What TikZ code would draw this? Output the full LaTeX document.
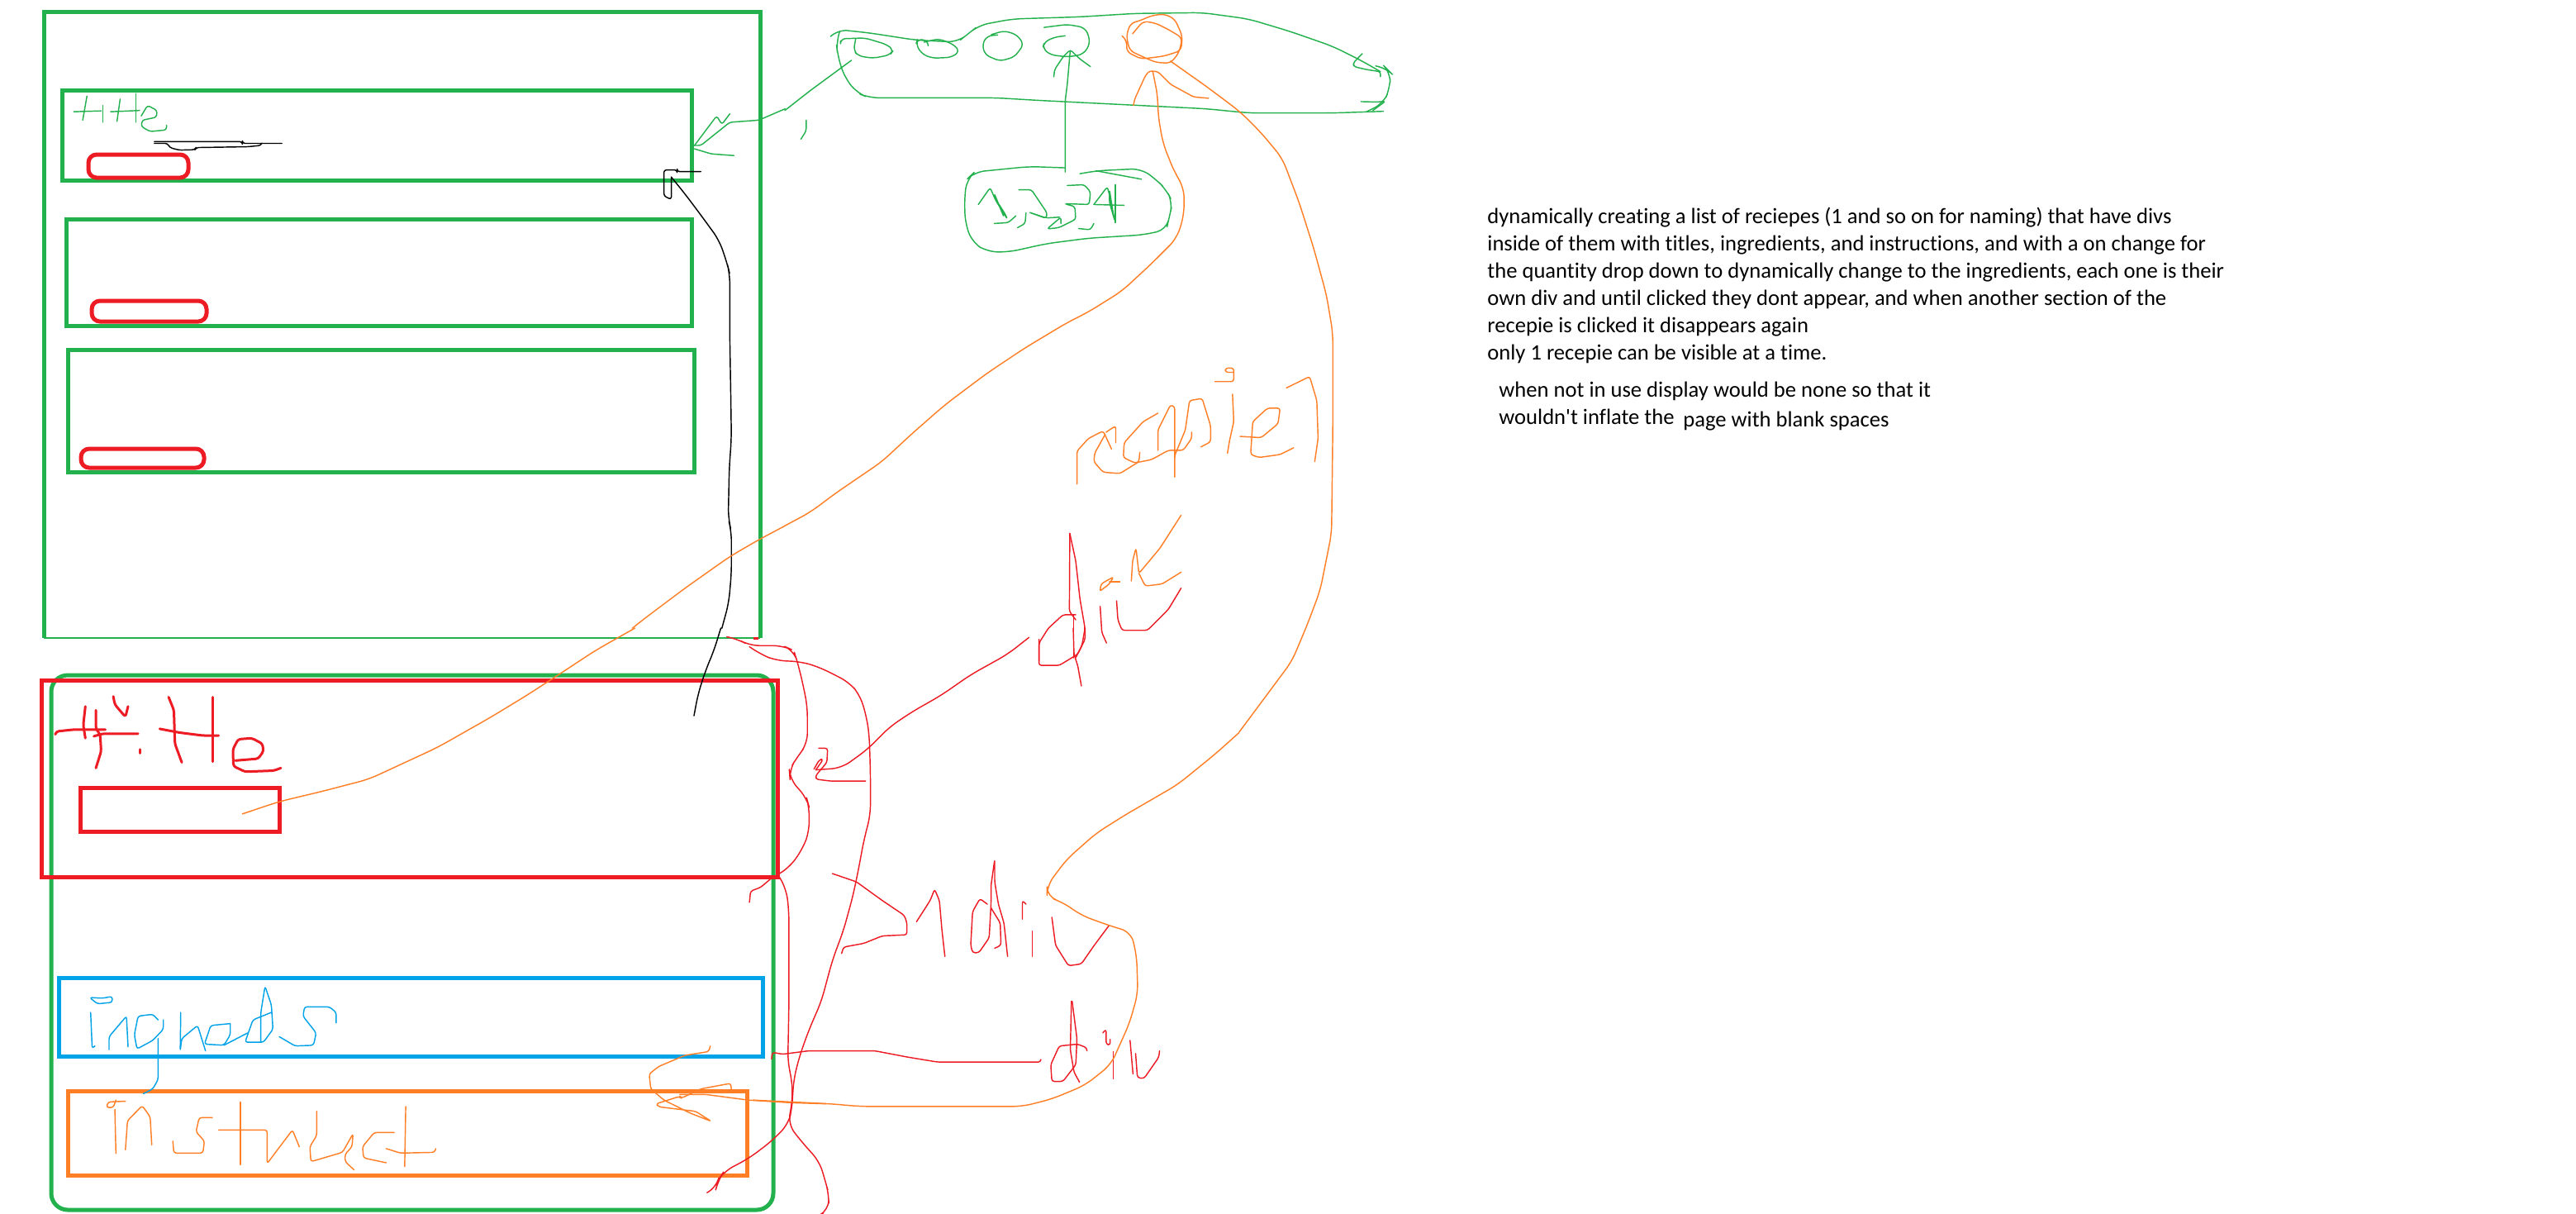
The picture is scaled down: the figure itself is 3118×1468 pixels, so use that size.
\documentclass[tikz,border=0pt]{standalone}
\usepackage{fontspec}
\newfontfamily\notefont{Carlito}[Ligatures=NoCommon]
\definecolor{pgreen}{HTML}{22B14C}
\definecolor{pred}{HTML}{ED1C24}
\definecolor{pblue}{HTML}{00A2E8}
\definecolor{porange}{HTML}{FF7F27}
\tikzset{
  zA/.style={xscale=.6378,yscale=.5102},
  zB/.style={shift={(950,0)},scale=.5102},
  zC/.style={shift={(0,760)},xscale=.6378,yscale=.4515},
  zD/.style={shift={(800,760)},xscale=.4464,yscale=.4515},
  box/.style={line width=2.5pt,line join=miter},
  thin stroke/.style={line width=.72pt,line join=round,line cap=round,rounded corners=1.5pt},
  longcurve/.style={rounded corners=6pt},
  med stroke/.style={line width=1.5pt,line join=round,line cap=round,rounded corners=1.5pt},
  note/.style={anchor=base west,inner sep=0pt,font=\notefont\fontsize{13.3pt}{15pt}\selectfont,text=black}
}
\begin{document}
\begin{tikzpicture}[x=.5pt,y=-.5pt]
\useasboundingbox (0,0) rectangle (3118,1468);
\fill[white] (0,0) rectangle (3118,1468);
% ---------- thick boxes
\draw[box,pgreen] (53,772) -- (53,14) -- (920,14) -- (920,772);
\draw[pgreen,line width=.7pt] (53,772) -- (920,772);
\draw[box,pgreen] (75,109) rectangle (837,218);
\draw[box,pgreen] (80,265) rectangle (837,394);
\draw[box,pgreen] (82,423) rectangle (840,571);
\draw[box,pred,rounded corners=5pt] (107,187) rectangle (228,215);
\draw[box,pred,rounded corners=5pt] (111,364) rectangle (250,389);
\draw[box,pred,rounded corners=5pt] (98,543) rectangle (247,566);
\draw[box,pgreen,rounded corners=10pt] (62,817) rectangle (936,1464);
\draw[box,pred] (50,823) rectangle (941,1061);
\draw[box,pred] (97,953) rectangle (338,1006);
\draw[box,pblue] (71,1183.5) rectangle (923,1278);
\draw[box,porange] (82,1320) rectangle (904,1422);
\draw[pred,line width=1.5pt] (912,772) -- (918,772);
% ---------- zoom-A strokes
\begin{scope}[zA]
\begin{scope}[thin stroke,pgreen]
\draw (165,228) -- (157,285);
\draw (140,265) -- (192,263);
\draw (195,250) -- (195,290);
\draw (228,235) -- (222,288);
\draw (210,265) -- (265,262);
\draw (258,222) -- (258,290);
\draw (268,275) -- (280,250) -- (298,262) -- (297,278) -- (270,285) -- (268,300) -- (285,312) -- (316,308) -- (316,297);
\draw (1318,345) -- (1360,275) -- (1370,295) -- (1385,270);
\draw (1318,345) -- (1330,345) -- (1385,290) -- (1440,285) -- (1490,258);
\draw (1318,353) -- (1350,365) -- (1393,369);
\draw (1530,285) -- (1530,310) -- (1520,330);
\end{scope}
\begin{scope}[thin stroke,black]
\draw (293,336) -- (460,336) -- (460,340) -- (535,340);
\draw (293,340) -- (318,340) -- (322,350) -- (340,356) -- (370,355) -- (372,350) -- (470,348) -- (495,345) -- (497,340);
\draw (1330,407) -- (1285,407) -- (1285,403) -- (1260,403) -- (1260,465) -- (1274,473) -- (1274,420);
\draw[longcurve] (1274,420) -- (1300,460) -- (1330,510) -- (1365,570) -- (1380,625) -- (1385,650) -- (1385,800) -- (1387,950) -- (1388,1040) -- (1384,1110) -- (1382,1230) -- (1388,1260) -- (1388,1360) -- (1383,1430) -- (1370,1490);
\end{scope}
\draw[thin stroke,longcurve,porange] (1490,1247) -- (1440,1280) -- (1385,1320) -- (1300,1395) -- (1220,1470) -- (1200,1490);
\end{scope}
% ---------- zoom-B strokes
\begin{scope}[zB]
\begin{scope}[thin stroke,pgreen]
\draw (0,262) -- (60,215) -- (158,143);
\draw[longcurve] (110,85) -- (125,70) -- (200,78) -- (310,95) -- (410,100) -- (435,80) -- (460,60) -- (540,45) -- (700,40) -- (830,32) -- (990,30) -- (1100,45) -- (1200,75) -- (1300,110) -- (1370,145) -- (1413,170);
\draw (1370,127) -- (1348,150) -- (1350,158) -- (1380,165) -- (1413,170) -- (1413,182);
\draw[longcurve] (1405,157) -- (1425,160) -- (1437,172) -- (1435,210) -- (1420,245) -- (1380,265);
\draw (1367,241) -- (1405,242) -- (1425,240) -- (1395,262);
\draw[longcurve] (1420,264) -- (1300,268) -- (1100,268) -- (1000,258) -- (800,248) -- (600,238) -- (500,232) -- (200,232) -- (170,220) -- (140,180) -- (125,130) -- (122,100) -- (130,75);
\draw[rounded corners=3pt] (132,97) -- (132,92) -- (190,90) -- (240,105) -- (258,118) -- (250,130) -- (210,138) -- (175,133) -- (163,120) -- (168,92);
\draw[rounded corners=3pt] (340,105) -- (340,97) -- (315,92) -- (311,105) -- (325,128) -- (350,138) -- (395,136) -- (415,122) -- (400,105) -- (365,92) -- (330,100);
\draw[rounded corners=3pt] (505,83) -- (480,85) -- (468,105) -- (475,130) -- (510,145) -- (545,135) -- (567,105) -- (550,82) -- (520,73) -- (490,82);
\draw[rounded corners=3pt] (615,65) -- (670,58) -- (710,65) -- (722,85) -- (722,110) -- (705,130) -- (670,135) -- (630,130) -- (612,115) -- (615,100) -- (640,88) -- (665,85);
\draw (665,408) -- (665,240) -- (670,200) -- (677,120);
\draw (638,182) -- (640,165) -- (660,135) -- (677,118) -- (700,140) -- (725,158);
\draw[longcurve] (665,398) -- (580,395) -- (450,408) -- (432,425) -- (426,470) -- (428,530) -- (445,575) -- (480,597) -- (530,598) -- (620,578) -- (720,565) -- (850,557) -- (905,545) -- (912,515) -- (920,480) -- (905,450) -- (880,425) -- (845,400) -- (740,405) -- (700,412);
\draw (738,405) -- (846,425);
\draw (459,485) -- (487,445) -- (500,475) -- (528,520) -- (524,510) -- (505,480) -- (520,515) -- (498,462);
\draw (497,530) -- (530,528) -- (548,512);
\draw (555,450) -- (585,450) -- (622,505) -- (620,518) -- (578,503) -- (620,517) -- (652,515);
\draw (572,505) -- (570,530) -- (552,540);
\draw (670,440) -- (710,438) -- (725,455) -- (722,485) -- (663,483) -- (688,490) -- (690,520) -- (650,540) -- (622,543) -- (655,515) -- (655,530);
\draw (697,542) -- (725,545) -- (733,530);
\draw (733,485) -- (765,443) -- (772,470) -- (783,525) -- (770,480) -- (770,450) -- (778,500);
\draw (784,438) -- (784,528);
\draw (733,485) -- (805,487);
\end{scope}
\begin{scope}[thin stroke,porange]
\draw[rounded corners=3pt] (800,85) -- (812,98) -- (810,122) -- (845,140) -- (900,133) -- (940,120) -- (943,85) -- (925,45) -- (900,33) -- (870,37) -- (840,50) -- (820,55) -- (810,85) -- (818,120) -- (850,135) -- (880,148) -- (915,150) -- (935,125) -- (943,90) -- (910,70) -- (880,55) -- (850,50) -- (825,80);
\draw[longcurve] (915,145) -- (1000,205) -- (1080,265) -- (1130,315) -- (1180,375) -- (1220,480) -- (1255,590) -- (1285,700) -- (1300,790) -- (1300,1010) -- (1297,1265) -- (1270,1400) -- (1240,1480) -- (1203,1568) -- (1078,1736);
\draw (827,250) -- (830,235) -- (855,180) -- (865,168) -- (885,170) -- (915,200) -- (970,230) -- (1005,233);
\draw[longcurve] (873,170) -- (885,230) -- (885,270) -- (897,340) -- (925,410) -- (947,445) -- (947,510) -- (930,565) -- (870,625) -- (800,690) -- (720,740) -- (670,765) -- (570,825) -- (480,885) -- (380,960) -- (300,1030) -- (230,1095) -- (120,1170) -- (60,1215) -- (0,1247);
\draw (693,1148) -- (693,1070) -- (720,1040) -- (755,1022) -- (775,1065);
\draw (760,1030) -- (735,1075) -- (733,1095) -- (755,1120) -- (795,1123) -- (840,1095) -- (842,1073);
\draw (762,1025) -- (785,1010) -- (785,1050);
\draw (885,980) -- (850,1000) -- (805,1050) -- (803,1085) -- (830,1098) -- (870,1090) -- (910,1068) -- (945,1068) -- (965,1040) -- (965,1025);
\draw (885,1068) -- (885,1020) -- (915,960) -- (925,965) -- (925,1135) -- (925,1080) -- (950,1020) -- (960,950) -- (990,945) -- (1010,1010) -- (1010,1048) -- (987,1060);
\draw (1020,905) -- (1065,905) -- (1065,873) -- (1045,873) -- (1045,883) -- (1065,883);
\draw (1062,935) -- (1065,1000) -- (1055,1045) -- (1050,1075);
\draw (1080,1035) -- (1130,1038) -- (1170,1005) -- (1175,968) -- (1145,968) -- (1110,1000) -- (1105,1078) -- (1125,1085) -- (1175,1078) -- (1207,1062);
\draw (1190,920) -- (1245,893) -- (1262,950) -- (1265,1040) -- (1257,1095);
\draw (748,1400) -- (750,1385) -- (780,1368) -- (770,1385) -- (750,1400);
\draw (770,1380) -- (795,1380);
\draw (822,1378) -- (825,1330) -- (833,1300) -- (840,1360) -- (890,1300) -- (940,1222);
\draw (840,1360) -- (855,1390) -- (895,1385) -- (940,1357);
\end{scope}
\begin{scope}[thin stroke,pred]
\draw (676,1265) -- (675,1450) -- (690,1470);
\draw (676,1265) -- (690,1330) -- (700,1420) -- (712,1490) -- (705,1530) -- (690,1560);
\draw (690,1458) -- (660,1458) -- (625,1490) -- (603,1525) -- (603,1568);
\draw (685,1458) -- (685,1560);
\draw (748,1438) -- (752,1500) -- (763,1525);
\draw (787,1425) -- (790,1470) -- (800,1495) -- (860,1495) -- (910,1445) -- (940,1395);
\end{scope}
\end{scope}
% ---------- zoom-C strokes
\begin{scope}[zC]
\draw[thin stroke,longcurve,black] (1368,0) -- (1355,60) -- (1340,110) -- (1325,175) -- (1317,235);
\draw[thin stroke,longcurve,porange] (1205,0) -- (1130,60) -- (1060,125) -- (1000,180) -- (930,240) -- (830,320) -- (700,405) -- (610,438) -- (530,465) -- (460,498);
\begin{scope}[med stroke,pred]
\draw (105,285) -- (107,277) -- (140,272) -- (200,272);
\draw (162,210) -- (158,260) -- (162,295);
\draw (182,220) -- (182,270) -- (190,285) -- (192,330) -- (182,375);
\draw (178,290) -- (195,283) -- (262,283);
\draw (215,183) -- (218,205) -- (238,238) -- (243,210);
\draw (265,325) -- (265,335);
\draw (320,185) -- (330,220) -- (332,310) -- (345,360);
\draw (303,270) -- (340,280) -- (385,288) -- (415,288);
\draw (403,185) -- (403,358);
\draw (447,355) -- (490,350) -- (500,330) -- (498,310) -- (478,295) -- (452,298) -- (442,325) -- (443,370) -- (465,385) -- (520,382) -- (533,375);
\end{scope}
\begin{scope}[thin stroke,pblue]
\draw (170,990) -- (195,992) -- (213,987) -- (213,1003) -- (185,1007) -- cycle;
\draw (172,1030) -- (175,1127) -- (180,1120);
\draw (207,1130) -- (207,1095) -- (240,1040) -- (243,1122);
\draw (300,1050) -- (290,1035) -- (262,1040) -- (255,1090) -- (260,1128) -- (290,1105) -- (310,1075) -- (310,1050);
\draw (300,1100) -- (300,1210) -- (290,1235) -- (272,1248);
\draw (343,1030) -- (342,1133) -- (345,1100) -- (375,1065) -- (390,1133);
\draw (437,1060) -- (400,1065) -- (388,1115) -- (425,1118) -- (437,1090) -- (437,1060);
\draw (425,1118) -- (470,1085);
\draw (515,1030) -- (480,1050) -- (465,1110) -- (500,1110) -- (518,1075) -- (515,1010) -- (503,960) -- (495,1030) -- (495,1110);
\draw (530,1095) -- (560,1120) -- (595,1118) -- (600,1085) -- (575,1040) -- (578,1015) -- (625,1015) -- (638,1030) -- (638,1058);
\end{scope}
\begin{scope}[thin stroke,porange]
\draw (238,1268) -- (205,1270) -- (202,1285) -- (215,1285) -- (220,1265);
\draw (218,1290) -- (220,1408);
\draw (238,1398) -- (242,1320) -- (270,1280) -- (285,1310) -- (288,1385);
\draw (403,1312) -- (378,1312) -- (372,1350) -- (388,1375) -- (385,1407) -- (330,1407) -- (328,1375);
\draw (456,1270) -- (456,1438);
\draw (415,1345) -- (507,1345) -- (507,1435) -- (555,1345) -- (568,1390);
\draw (601,1295) -- (601,1360) -- (588,1390) -- (590,1430) -- (650,1405) -- (670,1355) -- (668,1390) -- (655,1410) -- (655,1430) -- (672,1452);
\draw (748,1352) -- (710,1352) -- (688,1390) -- (690,1420) -- (733,1433);
\draw (770,1282) -- (768,1443);
\draw (733,1395) -- (760,1407) -- (825,1405) -- (827,1395);
\draw (1348,1120) -- (1345,1135) -- (1300,1145) -- (1250,1175) -- (1232,1195) -- (1235,1235) -- (1260,1265) -- (1310,1300) -- (1350,1322) -- (1320,1295) -- (1250,1283) -- (1245,1275) -- (1290,1255) -- (1293,1260) -- (1330,1235) -- (1387,1220) -- (1388,1240);
\draw (1568,1275) -- (1500,1272) -- (1420,1265) -- (1340,1250) -- (1290,1250);
\end{scope}
\end{scope}
% ---------- zoom-D strokes
\begin{scope}[zD]
\begin{scope}[thin stroke,pred]
\draw (1025,30) -- (1025,100) -- (1080,100) -- (1130,70) -- (1150,30) -- (1150,0);
\draw (1118,0) -- (1120,70) -- (1130,100) -- (1140,155);
\draw[longcurve] (998,25) -- (940,70) -- (840,125) -- (760,180) -- (680,225) -- (620,265) -- (560,325) -- (490,375) -- (420,380);
\draw (420,380) -- (440,352) -- (430,352) -- (415,378);
\draw (428,322) -- (452,322) -- (450,360) -- (420,395) -- (420,405) -- (460,410) -- (555,410);
\draw[longcurve] (187,25) -- (205,28) -- (240,47) -- (330,47) -- (360,60) -- (370,90) -- (385,150) -- (397,210) -- (397,310) -- (370,345) -- (348,380) -- (350,405) -- (395,455) -- (402,480) -- (402,545) -- (385,590) -- (350,640) -- (310,665);
\draw[longcurve] (240,50) -- (270,70) -- (312,87) -- (380,90) -- (430,105) -- (510,145) -- (540,180) -- (558,240) -- (565,290) -- (568,390) -- (568,500) -- (550,570) -- (535,650) -- (520,720) -- (495,810) -- (465,890) -- (435,1000) -- (400,1080) -- (375,1150) -- (360,1210) -- (355,1290) -- (345,1330) -- (300,1375) -- (240,1420) -- (170,1457) -- (155,1480) -- (150,1500) -- (125,1513);
\draw[longcurve] (320,665) -- (340,700) -- (347,760) -- (347,1010) -- (344,1165) -- (355,1210) -- (357,1260) -- (345,1330) -- (380,1375) -- (430,1430) -- (445,1480) -- (455,1515) -- (455,1560) -- (440,1568);
\draw (300,670) -- (270,695) -- (243,705) -- (240,735);
\draw (465,658) -- (530,680) -- (600,730) -- (660,770) -- (667,790) -- (667,822) -- (600,825) -- (550,845) -- (495,855) -- (490,872);
\draw (693,787) -- (730,730) -- (742,700) -- (755,730) -- (762,810) -- (770,880);
\draw (885,740) -- (865,725) -- (845,760) -- (840,850) -- (845,870) -- (862,870) -- (890,830) -- (895,740) -- (895,690) -- (905,620) -- (905,680) -- (915,740) -- (930,790) -- (940,880);
\draw (895,750) -- (920,790) -- (922,850) -- (905,858);
\draw (980,780) -- (980,730) -- (990,740);
\draw (1007,812) -- (1007,880);
\draw (1060,775) -- (1070,850) -- (1105,905) -- (1140,900) -- (1175,850) -- (1215,797);
\draw (300,1155) -- (302,1137) -- (330,1142) -- (400,1133) -- (580,1133) -- (670,1150) -- (750,1163) -- (1030,1163) -- (1030,1158);
\draw (1113,1000) -- (1110,1130) -- (1120,1190) -- (1135,1217);
\draw (1115,1000) -- (1128,1100) -- (1125,1170) -- (1090,1215) -- (1060,1215) -- (1057,1170) -- (1080,1120) -- (1130,1115) -- (1155,1125) -- (1155,1133);
\draw (1198,1085) -- (1207,1075) -- (1207,1115) -- (1218,1118) -- (1218,1102);
\draw (1227,1135) -- (1227,1208);
\draw (1272,1105) -- (1280,1195);
\draw (1287,1140) -- (1292,1205) -- (1310,1207) -- (1350,1150) -- (1352,1133);
\end{scope}
\draw[thin stroke,longcurve,porange] (1568,280) -- (1500,340) -- (1400,420) -- (1260,500) -- (1180,550) -- (1100,620) -- (1047,690) -- (1047,720) -- (1090,735) -- (1140,770) -- (1215,797) -- (1275,815) -- (1290,880) -- (1293,980) -- (1270,1060) -- (1220,1170) -- (1150,1225) -- (1060,1262) -- (980,1282) -- (540,1282) -- (460,1275) -- (250,1265);
\end{scope}
% ---------- typed notes
\node[note] (n1) at (1800,270) {dynamically creating a list of reciepes (1 and so on for naming) that have divs};
\node[note] (n2) at (1800,303) {inside of them with titles, ingredients, and instructions, and with a on change for};
\node[note] (n3) at (1800,336) {the quantity drop down to dynamically change to the ingredients, each one is their};
\node[note] (n4) at (1800,369) {own div and until clicked they dont appear, and when another section of the};
\node[note] (n5) at (1800,402) {recepie is clicked it disappears again};
\node[note] (n6) at (1800,435) {only 1 recepie can be visible at a time.};
\node[note] (n7) at (1814,480) {when not in use display would be none so that it};
\node[note] (n8) at (1814,513) {wouldn't inflate the};
\node[note] (n9) at (2037,516) {page with blank spaces};
\end{tikzpicture}
\end{document}
